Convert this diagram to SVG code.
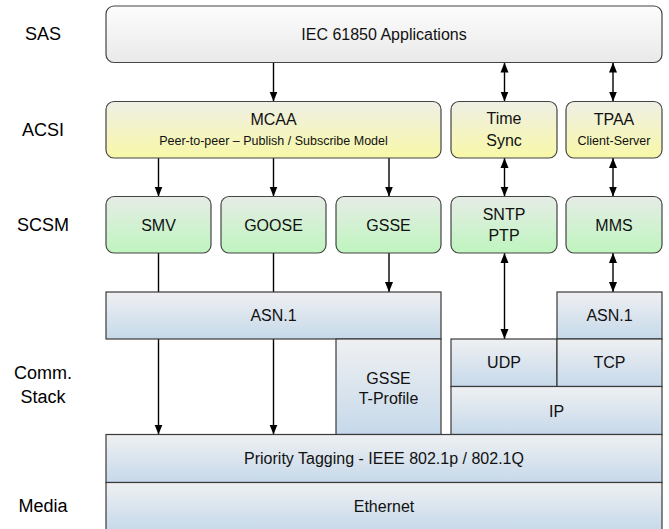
<svg xmlns="http://www.w3.org/2000/svg" width="669" height="529" viewBox="0 0 669 529">
<defs>
<linearGradient id="gTop" x1="0" y1="0" x2="0" y2="1"><stop offset="0" stop-color="#fdfdfd"/><stop offset="1" stop-color="#e9e9e9"/></linearGradient>
<linearGradient id="gY" x1="0" y1="0" x2="0" y2="1"><stop offset="0" stop-color="#efefe6"/><stop offset="1" stop-color="#f8f8a8"/></linearGradient>
<linearGradient id="gG" x1="0" y1="0" x2="0" y2="1"><stop offset="0" stop-color="#e6ece6"/><stop offset="1" stop-color="#bff5bf"/></linearGradient>
<linearGradient id="gB" x1="0" y1="0" x2="0" y2="1"><stop offset="0" stop-color="#eff0f2"/><stop offset="1" stop-color="#c6d9ea"/></linearGradient>
<marker id="ah" viewBox="0 0 10 10" refX="10" refY="5" markerWidth="10" markerHeight="10" markerUnits="userSpaceOnUse" orient="auto-start-reverse">
<path d="M0,1 L10,5 L0,9 Z" fill="#000"/>
</marker>
<style>
.lbl{font-family:"Liberation Sans",Arial,sans-serif;font-size:18px;fill:#000;text-anchor:middle}
.t{font-family:"Liberation Sans",Arial,sans-serif;font-size:16px;fill:#111;text-anchor:middle}
.s{font-family:"Liberation Sans",Arial,sans-serif;font-size:12.5px;fill:#111;text-anchor:middle}
.top{fill:url(#gTop);stroke:#444;stroke-width:1.2}
.y{fill:url(#gY);stroke:#444;stroke-width:1.2}
.g{fill:url(#gG);stroke:#444;stroke-width:1.2}
.b{fill:url(#gB);stroke:#3a3a3a;stroke-width:1.2}
.c{stroke:#000;stroke-width:1.4;fill:none}
.ae{marker-end:url(#ah)}
.ad{marker-start:url(#ah);marker-end:url(#ah)}
</style>
</defs>
<g id="layer-labels">
<text class="lbl" x="43" y="40">SAS</text>
<text class="lbl" x="43" y="136">ACSI</text>
<text class="lbl" x="43" y="231">SCSM</text>
<text class="lbl" x="43" y="379">Comm.</text>
<text class="lbl" x="43" y="403">Stack</text>
<text class="lbl" x="43" y="512">Media</text>
</g>
<g id="connectors">
<line class="c ae" x1="273.5" y1="62.5" x2="273.5" y2="101.5"/>
<line class="c ad" x1="504.5" y1="62.5" x2="504.5" y2="101.5"/>
<line class="c ad" x1="613" y1="62.5" x2="613" y2="101.5"/>
<line class="c ae" x1="158.5" y1="158" x2="158.5" y2="196.5"/>
<line class="c ae" x1="273.5" y1="158" x2="273.5" y2="196.5"/>
<line class="c ae" x1="389" y1="158" x2="389" y2="196.5"/>
<line class="c ad" x1="504.5" y1="158" x2="504.5" y2="196.5"/>
<line class="c ad" x1="613" y1="158" x2="613" y2="196.5"/>
<line class="c" x1="158.5" y1="253" x2="158.5" y2="292"/>
<line class="c" x1="273.5" y1="253" x2="273.5" y2="292"/>
<line class="c ae" x1="389" y1="253" x2="389" y2="292"/>
<line class="c ad" x1="504.5" y1="253" x2="504.5" y2="339"/>
<line class="c ad" x1="613" y1="253" x2="613" y2="292"/>
<line class="c ae" x1="158.5" y1="339" x2="158.5" y2="434.5"/>
<line class="c ae" x1="273.5" y1="339" x2="273.5" y2="434.5"/>
</g>
<g id="iec-apps">
<rect class="top" x="106" y="6" width="556" height="56.5" rx="8"/>
<text class="t" x="384" y="39.5">IEC 61850 Applications</text>
</g>
<g id="mcaa">
<rect class="y" x="106" y="101.5" width="335" height="56.5" rx="8"/>
<text class="t" x="273.5" y="124.5">MCAA</text>
<text class="s" x="273.5" y="144.5">Peer-to-peer – Publish / Subscribe Model</text>
</g>
<g id="timesync">
<rect class="y" x="451" y="101.5" width="106" height="56.5" rx="8"/>
<text class="t" x="504" y="123.5">Time</text>
<text class="t" x="504" y="145.5">Sync</text>
</g>
<g id="tpaa">
<rect class="y" x="566" y="101.5" width="96" height="56.5" rx="8"/>
<text class="t" x="614" y="124.5">TPAA</text>
<text class="s" x="614" y="144.5">Client-Server</text>
</g>
<g id="smv">
<rect class="g" x="106" y="196.5" width="105" height="56.5" rx="8"/>
<text class="t" x="158.5" y="230.5">SMV</text>
</g>
<g id="goose">
<rect class="g" x="221" y="196.5" width="105" height="56.5" rx="8"/>
<text class="t" x="273.5" y="230.5">GOOSE</text>
</g>
<g id="gsse">
<rect class="g" x="336" y="196.5" width="105" height="56.5" rx="8"/>
<text class="t" x="388.5" y="230.5">GSSE</text>
</g>
<g id="sntp">
<rect class="g" x="451" y="196.5" width="106" height="56.5" rx="8"/>
<text class="t" x="504" y="219.5">SNTP</text>
<text class="t" x="504" y="240.5">PTP</text>
</g>
<g id="mms">
<rect class="g" x="566" y="196.5" width="96" height="56.5" rx="8"/>
<text class="t" x="614" y="230.5">MMS</text>
</g>
<g id="asn1-left">
<rect class="b" x="106" y="292" width="335" height="47"/>
<text class="t" x="273.5" y="321">ASN.1</text>
</g>
<g id="asn1-right">
<rect class="b" x="557" y="292" width="105" height="47"/>
<text class="t" x="609.5" y="321">ASN.1</text>
</g>
<g id="gsse-tprofile">
<rect class="b" x="336" y="339" width="105" height="95.5"/>
<text class="t" x="388.5" y="383.5">GSSE</text>
<text class="t" x="388.5" y="403.5">T-Profile</text>
</g>
<g id="udp">
<rect class="b" x="451" y="339" width="106" height="47.5"/>
<text class="t" x="504" y="367.5">UDP</text>
</g>
<g id="tcp">
<rect class="b" x="557" y="339" width="105" height="47.5"/>
<text class="t" x="609.5" y="367.5">TCP</text>
</g>
<g id="ip">
<rect class="b" x="451" y="386.5" width="211" height="48"/>
<text class="t" x="556.5" y="416.5">IP</text>
</g>
<g id="priority">
<rect class="b" x="106" y="434.5" width="556" height="48"/>
<text class="t" x="384" y="464">Priority Tagging - IEEE 802.1p / 802.1Q</text>
</g>
<g id="ethernet">
<rect class="b" x="106" y="482.5" width="556" height="48"/>
<text class="t" x="384" y="511.5">Ethernet</text>
</g>
</svg>
